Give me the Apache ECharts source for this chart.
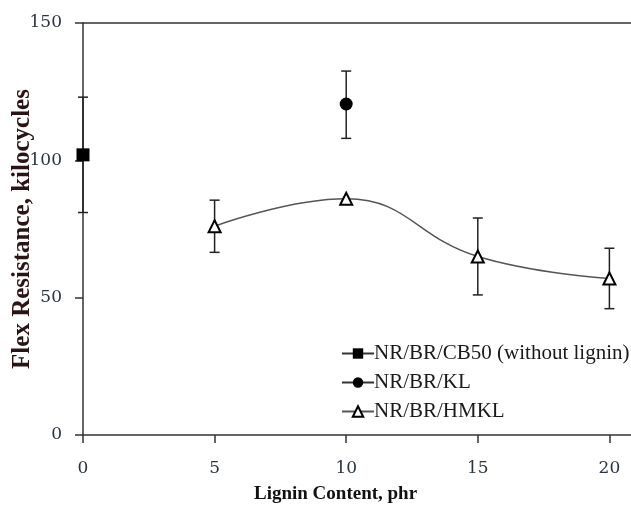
<!DOCTYPE html>
<html>
<head>
<meta charset="utf-8">
<script src="https://cdn.jsdelivr.net/npm/echarts@6/dist/echarts.min.js"></script>
<style>
html, body { margin: 0; padding: 0; background: #fff; }
#chart { width: 631px; height: 506px; }
</style>
</head>
<body>
<div id="chart"></div>
<script>
// data
const xCB50 = [0];
const yCB50 = [102];
const errCB50 = [[81, 123]];

const xKL = [10];
const yKL = [120.5];
const errKL = [[108, 132.5]];

const xHMKL = [5, 10, 15, 20];
const yHMKL = [76, 86, 65, 57];
const errHMKL = [[66.5, 85.5], null, [51, 79], [46, 68]];

const yTicks = [0, 50, 100, 150];

const serif = '"Liberation Serif", "DejaVu Serif", serif';
const tickFont = '"DejaVu Serif", serif';

function pairs(xs, ys) {
    return xs.map((x, i) => [x, ys[i]]);
}

function errData(xs, errs) {
    let out = [];
    xs.forEach((x, i) => {
        if (errs[i]) out.push([x, errs[i][0], errs[i][1]]);
    });
    return out;
}

function errorBarSeries(data) {
    return {
        type: 'custom',
        silent: true,
        z: 1,
        data: data,
        renderItem: (params, api) => {
            let lo = api.coord([api.value(0), api.value(1)]);
            let hi = api.coord([api.value(0), api.value(2)]);
            let w = 5;
            let style = { stroke: '#222', lineWidth: 1.5 };
            return {
                type: 'group',
                children: [
                    { type: 'line', shape: { x1: lo[0], y1: lo[1], x2: hi[0], y2: hi[1] }, style: style },
                    { type: 'line', shape: { x1: lo[0] - w, y1: lo[1], x2: lo[0] + w, y2: lo[1] }, style: style },
                    { type: 'line', shape: { x1: hi[0] - w, y1: hi[1], x2: hi[0] + w, y2: hi[1] }, style: style }
                ]
            };
        }
    };
}

let chart = echarts.init(document.getElementById('chart'));

let option = {
    animation: false,
    grid: {
        left: 83,
        top: 23,
        bottom: 71,
        right: -110,
        outerBoundsMode: 'none',
        containLabel: false
    },
    legend: {
        data: ['NR/BR/CB50 (without lignin)', 'NR/BR/KL', 'NR/BR/HMKL'],
        orient: 'vertical',
        left: 336,
        top: 338,
        itemGap: 8,
        itemWidth: 32,
        itemHeight: 13,
        textStyle: { fontFamily: serif, fontSize: 21, color: '#1a1a1a', padding: [0, 0, 0, -5] }
    },
    xAxis: [
        {
            type: 'value',
            min: 0,
            max: 25,
            interval: 5,
            splitLine: { show: false },
            axisLine: { onZero: false, lineStyle: { color: '#333', width: 1.5 } },
            axisTick: { length: 8, lineStyle: { color: '#333', width: 1.5 } },
            axisLabel: { fontFamily: tickFont, fontSize: 17, color: '#2b3440', margin: 25 }
        },
        {
            type: 'value',
            position: 'top',
            min: 0,
            max: 25,
            splitLine: { show: false },
            axisLine: { show: true, onZero: false, lineStyle: { color: '#333', width: 1.5 } },
            axisTick: { show: false },
            axisLabel: { show: false }
        }
    ],
    yAxis: {
        type: 'value',
        min: 0,
        max: 150,
        interval: 50,
        splitLine: { show: false },
        axisLine: { show: true, onZero: false, lineStyle: { color: '#333', width: 1.5 } },
        axisTick: { length: 8, lineStyle: { color: '#333', width: 1.5 } },
        axisLabel: { fontFamily: tickFont, fontSize: 17, color: '#2b3440', margin: 21,
            formatter: v => yTicks.includes(v) ? String(v) : '' },
        name: 'Flex Resistance, kilocycles',
        nameLocation: 'middle',
        nameGap: 48,
        nameMoveOverlap: false,
        nameTextStyle: { fontFamily: serif, fontSize: 25, fontWeight: 'bold', color: '#2a1414' }
    },
    graphic: [
        {
            type: 'text',
            left: 254,
            top: 485,
            style: {
                text: 'Lignin Content, phr',
                font: 'bold 19px ' + serif,
                fill: '#111'
            }
        }
    ],
    series: [
        errorBarSeries(errData(xCB50, errCB50)),
        errorBarSeries(errData(xKL, errKL)),
        errorBarSeries(errData(xHMKL, errHMKL)),
        {
            name: 'NR/BR/CB50 (without lignin)',
            type: 'line',
            z: 3,
            data: pairs(xCB50, yCB50),
            symbol: 'rect',
            symbolSize: 13,
            itemStyle: { color: '#000' },
            lineStyle: { color: '#333', width: 1.5 }
        },
        {
            name: 'NR/BR/KL',
            type: 'line',
            z: 3,
            data: pairs(xKL, yKL),
            symbol: 'circle',
            symbolSize: 13,
            itemStyle: { color: '#000' },
            lineStyle: { color: '#333', width: 1.5 }
        },
        {
            name: 'NR/BR/HMKL',
            type: 'line',
            z: 3,
            data: pairs(xHMKL, yHMKL),
            smooth: 0.45,
            symbol: 'triangle',
            symbolSize: 12,
            showAllSymbol: true,
            itemStyle: { color: '#fff', borderColor: '#000', borderWidth: 2 },
            lineStyle: { color: '#555', width: 1.5 }
        }
    ]
};

chart.setOption(option);
window.addEventListener('resize', () => {
    chart.resize()
})
</script>
</body>
</html>
